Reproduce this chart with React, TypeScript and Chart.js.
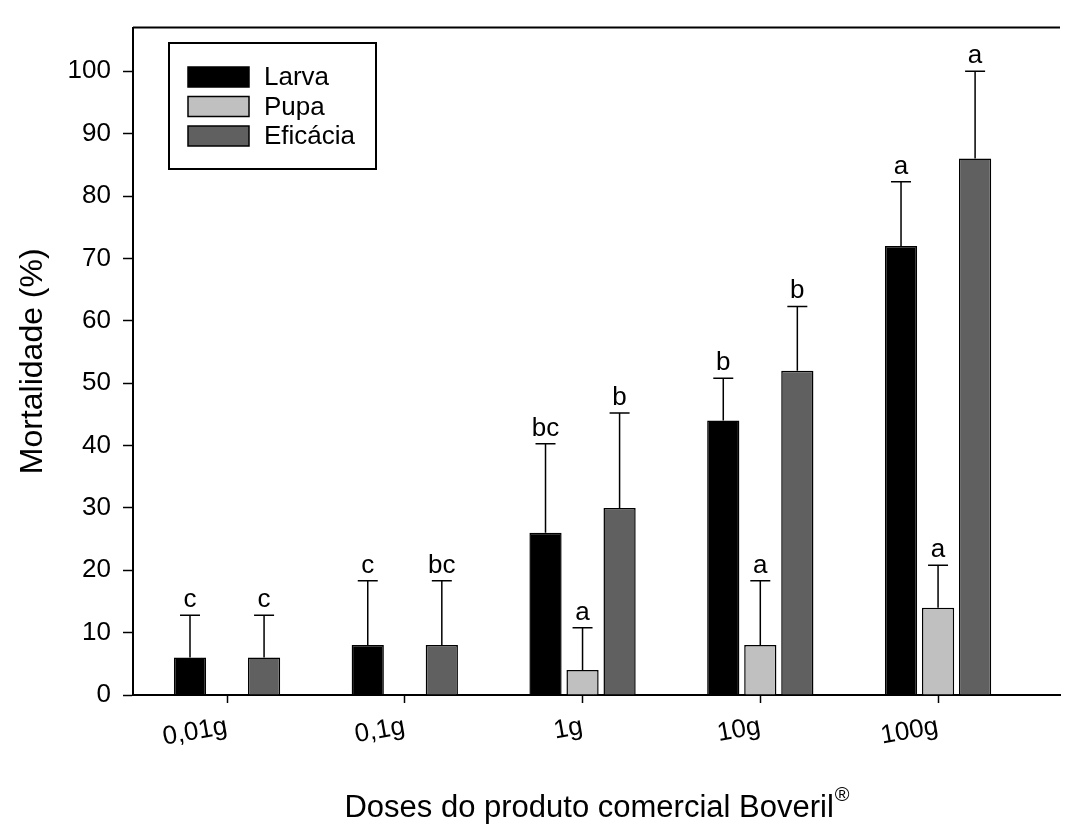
import React, { useEffect, useRef } from "react";
import { Chart, registerables } from "chart.js";

Chart.register(...registerables);

const FONT = "'Liberation Sans', Arial, sans-serif";

const doses = ["0,01g", "0,1g", "1g", "10g", "100g"];
const seriesNames = ["Larva", "Pupa", "Eficácia"];
const seriesColors = ["#000000", "#c0c0c0", "#606060"];

const larva = [6, 8, 26, 44, 72];
const pupa = [null, null, 4, 8, 14];
const eficacia = [6, 8, 30, 52, 86];

const larvaErr = [6.8, 10.3, 14.3, 6.8, 10.3];
const pupaErr = [null, null, 6.8, 10.3, 6.8];
const eficaciaErr = [6.8, 10.3, 15.2, 10.3, 14];

const larvaLetters = ["c", "c", "bc", "b", "a"];
const pupaLetters = [null, null, "a", "a", "a"];
const eficaciaLetters = ["c", "bc", "b", "b", "a"];

const yTicks = [0, 10, 20, 30, 40, 50, 60, 70, 80, 90, 100];

const values = [larva, pupa, eficacia];
const errors = [larvaErr, pupaErr, eficaciaErr];
const letters = [larvaLetters, pupaLetters, eficaciaLetters];

const errorBarPlugin = {
  id: "errorBars",
  afterDatasetsDraw(chart: any) {
    const ctx = chart.ctx;
    const y = chart.scales.y;
    ctx.save();
    ctx.strokeStyle = "#000";
    ctx.lineWidth = 1.5;
    ctx.fillStyle = "#000";
    ctx.font = `26px ${FONT}`;
    ctx.textAlign = "center";
    ctx.textBaseline = "alphabetic";
    values.forEach((vals, d) => {
      const meta = chart.getDatasetMeta(d);
      meta.data.forEach((bar: any, i: number) => {
        const v = vals[i];
        const e = errors[d][i];
        if (v == null || e == null) return;
        const yb = y.getPixelForValue(v);
        const yt = y.getPixelForValue(v + e);
        ctx.beginPath();
        ctx.moveTo(bar.x, yb);
        ctx.lineTo(bar.x, yt);
        ctx.moveTo(bar.x - 10, yt);
        ctx.lineTo(bar.x + 10, yt);
        ctx.stroke();
        const l = letters[d][i];
        if (l) ctx.fillText(l, bar.x, yt - 8);
      });
    });
    ctx.restore();
  },
};

const decorPlugin = {
  id: "decor",
  afterDraw(chart: any) {
    const ctx = chart.ctx;
    const a = chart.chartArea;
    ctx.save();
    // top frame line
    ctx.strokeStyle = "#000";
    ctx.lineWidth = 2;
    ctx.beginPath();
    ctx.moveTo(a.left, a.top);
    ctx.lineTo(a.right, a.top);
    ctx.stroke();

    // legend box
    const bx = 169, by = 43, bw = 207, bh = 126;
    ctx.lineWidth = 2;
    ctx.strokeRect(bx, by, bw, bh);
    ctx.font = `26px ${FONT}`;
    ctx.textAlign = "left";
    ctx.textBaseline = "middle";
    seriesNames.forEach((name, k) => {
      const sy = 67 + k * 29.5;
      ctx.fillStyle = seriesColors[k];
      ctx.fillRect(188, sy, 61, 20);
      ctx.lineWidth = 1.5;
      ctx.strokeStyle = "#000";
      ctx.strokeRect(188, sy, 61, 20);
      ctx.fillStyle = "#000";
      ctx.fillText(name, 264, sy + 11);
    });

    // y title
    ctx.fillStyle = "#000";
    ctx.font = `32px ${FONT}`;
    ctx.save();
    ctx.translate(33, (a.top + a.bottom) / 2);
    ctx.rotate(-Math.PI / 2);
    ctx.textAlign = "center";
    ctx.textBaseline = "middle";
    ctx.fillText("Mortalidade (%)", 0, 0);
    ctx.restore();

    // x title with superscript
    const main = "Doses do produto comercial Boveril";
    ctx.font = `31px ${FONT}`;
    const w1 = ctx.measureText(main).width;
    ctx.font = `20px ${FONT}`;
    const w2 = ctx.measureText("®").width;
    const startX = (a.left + a.right) / 2 - (w1 + w2) / 2;
    ctx.textAlign = "left";
    ctx.textBaseline = "alphabetic";
    ctx.font = `31px ${FONT}`;
    ctx.fillText(main, startX, 817);
    ctx.font = `20px ${FONT}`;
    ctx.fillText("®", startX + w1 + 1, 801);
    ctx.restore();
  },
};

export default function App() {
  const ref = useRef<HTMLCanvasElement | null>(null);
  useEffect(() => {
    if (!ref.current) return;
    const chart = new Chart(ref.current, {
      type: "bar",
      data: {
        datasets: values.map((vals, d) => ({
          label: seriesNames[d],
          data: vals.map((v, i) => ({ x: i, y: v })),
          backgroundColor: seriesColors[d],
          borderColor: "#000",
          borderWidth: 1.5,
          borderSkipped: "bottom",
          categoryPercentage: 0.625,
          barPercentage: 0.87,
        })),
      },
      plugins: [errorBarPlugin, decorPlugin],
      options: {
        animation: false,
        responsive: false,
        devicePixelRatio: 1,
        layout: { padding: { top: 14, right: 7, left: 0, bottom: 0 } },
        plugins: { legend: { display: false }, tooltip: { enabled: false } },
        scales: {
          x: {
            type: "linear",
            min: -0.529,
            max: 4.686,
            offset: false,
            afterBuildTicks: (s: any) => {
              s.ticks = doses.map((_, i) => ({ value: i }));
            },
            afterFit: (s: any) => {
              s.height = 130;
            },
            ticks: {
              autoSkip: false,
              minRotation: 10,
              maxRotation: 10,
              padding: 8,
              color: "#000",
              font: { family: FONT, size: 26 },
              callback: (v: any) => doses[v] ?? "",
            },
            grid: {
              offset: false,
              drawOnChartArea: false,
              drawTicks: true,
              tickLength: 8,
              tickColor: "#000",
              tickWidth: 1.5,
            },
            border: { display: true, color: "#000", width: 2 },
          },
          y: {
            type: "linear",
            min: 0,
            max: 107,
            afterBuildTicks: (s: any) => {
              s.ticks = yTicks.map((v) => ({ value: v }));
            },
            afterFit: (s: any) => {
              s.width = 133;
            },
            ticks: {
              padding: 12,
              color: "#000",
              font: { family: FONT, size: 26 },
            },
            grid: { drawOnChartArea: false, drawTicks: true, tickLength: 10, tickColor: "#000", tickWidth: 1.5 },
            border: { display: true, color: "#000", width: 2 },
          },
        },
      } as any,
    });
    return () => chart.destroy();
  }, []);
  return (
    <div style={{ position: "absolute", left: 0, top: 0, width: 1067, height: 825, background: "#fff" }}>
      <canvas ref={ref} width={1067} height={825} style={{ display: "block" }} />
    </div>
  );
}
